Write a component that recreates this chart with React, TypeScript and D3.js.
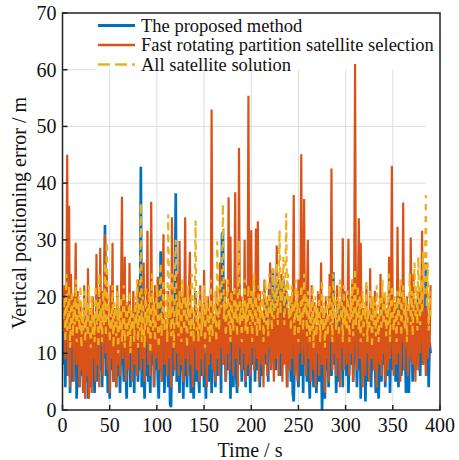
import React from "react";
import * as d3 from "d3";

const width = 459;
const height = 460;
const margin = { top: 13, right: 19, bottom: 50, left: 62.5 };

// vertical positioning error (m), one value per second, t = 1..390
const proposed = [
  8, 14, 4, 19, 6, 12, 22, 3, 10, 16,
  5, 13, 7, 18, 2, 9, 15, 4, 11, 6,
  12, 3, 17, 5, 9, 14, 2, 11, 7, 4,
  15, 6, 10, 3, 13, 8, 5, 12, 20, 7,
  11, 4, 16, 9, 32.6, 6, 14, 3, 10, 2,
  13, 7, 18, 5, 9, 12, 4, 15, 6, 10,
  3, 14, 8, 11, 5, 17, 7, 2, 12, 9,
  16, 4, 10, 6, 13, 3, 15, 8, 19, 5,
  11, 7, 42.9, 4, 14, 9, 2, 12, 6, 16,
  5, 10, 3, 13, 8, 18, 4, 11, 7, 15,
  6, 2, 12, 28, 9, 5, 14, 3, 10, 7,
  13, 4, 16, 1, 0.5, 11, 6, 9, 18, 38.2,
  5, 12, 8, 3, 15, 7, 10, 2, 13, 6,
  9, 4, 17, 8, 11, 3, 14, 6, 2, 10,
  21, 5, 12, 7, 3, 15, 9, 6, 13, 4,
  10, 2, 14, 8, 5, 12, 16, 3, 9, 7,
  13, 4, 11, 19, 6, 10, 15, 3, 31, 31.3,
  8, 14, 5, 11, 17, 7, 12, 2, 16, 9,
  4, 13, 10, 6, 3, 15, 22, 8, 12, 5,
  11, 7, 18, 4, 14, 9, 6, 13, 3, 16,
  8, 12, 20, 5, 15, 7, 11, 17, 4, 10,
  13, 6, 9, 15, 19, 8, 14, 5, 22, 12,
  16, 9, 24.9, 11, 18, 7, 20, 13, 10, 23,
  6, 17, 14, 23, 9, 19, 21, 4, 15, 8,
  12, 5, 16, 3, 1.5, 9, 18, 7, 13, 4,
  10, 14, 6, 17, 3, 20, 8, 12, 5, 15,
  9, 2, 11, 7, 16, 4, 13, 10, 3, 8,
  14, 5, 9, 12, 0, 6, 15, 2, 11, 7,
  13, 4, 18, 9, 6, 16, 24.3, 8, 12, 3,
  10, 15, 5, 19, 7, 13, 4, 17, 9, 11,
  6, 14, 3, 10, 16, 8, 20, 5, 12, 9,
  15, 4, 11, 7, 18, 2, 13, 9, 6, 10,
  1.5, 14, 5, 12, 8, 17, 4, 11, 7, 15,
  9, 3, 13, 6, 2, 10, 16, 5, 19, 8,
  12, 4, 14, 9, 6, 18, 3, 11, 15, 7,
  10, 13, 5, 8, 16, 4, 12, 20, 6, 9,
  14, 7, 11, 3, 15, 8, 3, 13, 10, 17,
  5, 12, 19, 7, 14, 9, 21, 11, 6, 16,
  13, 8, 18, 10, 26, 6, 15, 4, 12, 10,
];

const fastRotating = [
  14, 22, 9, 18, 45, 6, 36, 4, 24, 11,
  20, 5, 17, 29.5, 8, 21, 12, 4, 19, 7,
  16, 3, 22, 2, 14, 6, 25, 2, 11, 18,
  3, 20, 9, 15, 5, 27.5, 8, 17, 4, 28.6,
  12, 21, 6, 19, 31, 10, 24, 7, 15, 3,
  22, 9, 29.5, 5, 18, 11, 4, 22, 8, 16,
  6, 20, 37.6, 9, 14, 27, 5, 19, 12, 7,
  25.9, 10, 17, 5, 21, 13, 8, 19, 6, 23,
  11, 16, 7, 20, 9, 26, 5, 18, 12, 31.6,
  8, 15, 6, 36.7, 10, 19, 4, 22, 9, 14,
  23.5, 7, 17, 11, 5, 20, 31, 8, 16, 12,
  6, 21, 9, 18, 4, 34, 11, 15, 7, 19,
  10, 24, 6, 29.8, 13, 8, 20, 5, 17, 34,
  9, 14, 6, 21, 27.9, 8, 18, 4, 15, 11,
  20, 7, 16, 10, 5, 22, 9, 14, 6, 24.7,
  11, 18, 4, 20, 8, 15, 10, 53, 7, 17,
  12, 5, 21, 9, 16, 6, 26, 11, 19, 8,
  14, 23, 5, 18, 10, 37.5, 7, 30.6, 12, 21,
  6, 17, 38.4, 9, 15, 4, 46.2, 11, 20, 7,
  18, 10, 30, 5, 22, 8, 55.4, 13, 6, 31.7,
  11, 19, 7, 16, 32, 9, 33.3, 5, 21, 12,
  8, 17, 4, 23, 10, 15, 6, 20, 11, 26,
  7, 18, 12, 5, 21, 9, 29, 14, 6, 19,
  10, 24, 5, 16, 8, 22, 11, 4, 18, 13,
  7, 20, 9, 15, 37.9, 6, 19, 12, 5, 23,
  10, 16, 45.1, 8, 14, 37.2, 11, 6, 20, 30,
  9, 17, 5, 22, 12, 7, 19, 4, 15, 10,
  21, 6, 13, 26, 8, 18, 11, 3, 20, 9,
  16, 5, 24, 12, 42.6, 7, 19, 10, 15, 6,
  22, 9, 14, 4, 18, 11, 30.3, 7, 21, 13,
  8, 17, 30.2, 6, 15, 10, 23, 5, 19, 61,
  12, 7, 20, 33.8, 9, 29.5, 11, 4, 18, 14,
  6, 22, 10, 16, 5, 25, 9, 19, 12, 7,
  21, 11, 4, 17, 13, 8, 24, 6, 15, 10,
  20, 5, 18, 12, 7, 27, 9, 16, 43, 11,
  6, 19, 13, 8, 32.3, 10, 17, 5, 22, 12,
  36.6, 7, 15, 11, 20, 6, 18, 9, 30.4, 13,
  8, 24, 11, 5, 19, 14, 7, 21, 10, 16,
  31.6, 8, 18, 12, 6, 22, 9, 15, 11, 22,
];

const allSatellite = [
  16, 20, 12, 24, 14, 18, 22, 11, 17, 21,
  13, 19, 15, 23, 12, 17, 20, 14, 22, 11,
  18, 14, 21, 12, 16, 19, 13, 22, 15, 11,
  20, 13, 17, 12, 22, 15, 19, 11, 24, 14,
  18, 12, 21, 15, 26, 13, 29.7, 16, 20, 12,
  17, 14, 22, 11, 19, 15, 13, 21, 10, 18,
  14, 20, 12, 17, 22, 11, 16, 19, 13, 15,
  21, 10, 18, 14, 17, 12, 20, 15, 23, 11,
  19, 14, 36.5, 12, 20, 16, 11, 22, 15, 18,
  13, 21, 10, 17, 24, 14, 19, 12, 16, 22,
  15, 11, 20, 26, 13, 18, 23, 14, 17, 21,
  12, 34.5, 16, 20, 13, 24, 17, 11, 22, 30,
  15, 19, 13, 21, 16, 12, 23, 18, 14, 20,
  17, 11, 22, 15, 19, 13, 24, 16, 12, 20,
  33.4, 14, 18, 12, 21, 16, 13, 19, 15, 22,
  11, 17, 20, 14, 18, 12, 23, 16, 13, 19,
  15, 21, 12, 29.7, 17, 14, 22, 18, 24, 36.3,
  16, 20, 13, 18, 23, 15, 19, 12, 21, 17,
  14, 22, 16, 19, 13, 21, 30, 15, 18, 12,
  20, 16, 23, 14, 19, 13, 22, 17, 15, 21,
  12, 18, 24, 15, 20, 13, 17, 22, 14, 19,
  16, 21, 12, 18, 23, 15, 20, 13, 24, 17,
  19, 14, 25, 16, 21, 18, 26, 15, 22, 31.7,
  17, 23, 19, 27, 15, 21, 34.7, 18, 24, 16,
  20, 14, 22, 17, 19, 13, 23, 16, 21, 12,
  18, 15, 22, 19, 14, 24, 17, 20, 13, 21,
  16, 12, 19, 14, 22, 11, 17, 20, 13, 18,
  15, 21, 12, 17, 23, 14, 19, 11, 16, 20,
  13, 18, 22, 15, 19, 12, 24, 16, 21, 14,
  17, 20, 13, 23, 16, 19, 12, 22, 15, 18,
  14, 21, 17, 12, 20, 16, 23, 13, 19, 25,
  15, 18, 22, 14, 20, 12, 17, 21, 13, 19,
  16, 23, 12, 18, 14, 21, 17, 11, 20, 15,
  19, 13, 22, 16, 12, 20, 18, 14, 23, 15,
  17, 21, 13, 19, 15, 24, 12, 18, 22, 16,
  14, 20, 17, 12, 21, 15, 19, 23, 13, 18,
  22, 16, 14, 20, 12, 19, 17, 24, 15, 21,
  13, 18, 26, 16, 22, 14, 27, 19, 15, 23,
  17, 28, 20, 24, 37.9, 18, 26, 14, 21, 16,
];

const xTicks = [0, 50, 100, 150, 200, 250, 300, 350, 400];
const yTicks = [0, 10, 20, 30, 40, 50, 60, 70];

const series = [
  { name: "The proposed method", values: proposed, color: "#0072BD", width: 2.7, dash: null },
  { name: "Fast rotating partition satellite selection", values: fastRotating, color: "#D95319", width: 2.2, dash: null },
  { name: "All satellite solution", values: allSatellite, color: "#EDB120", width: 2.2, dash: "6,6" },
];

const font = "'Liberation Serif', 'Times New Roman', serif";

export default function App() {
  const x = d3.scaleLinear().domain([0, 400]).range([margin.left, width - margin.right]);
  const y = d3.scaleLinear().domain([0, 70]).range([height - margin.bottom, margin.top]);

  const line = d3
    .line<number>()
    .x((_, i) => x(i + 1))
    .y((d) => y(d));

  const x0 = x(0);
  const x1 = x(400);
  const y0 = y(0);
  const y1 = y(70);

  return (
    <svg width={width} height={height} style={{ position: "absolute", left: 0, top: 0, background: "#fff" }}>
      {/* grid: stops short of the legend and the right edge */}
      {xTicks.slice(1, -1).map((t) => (
        <line key={"gx" + t} x1={x(t)} x2={x(t)} y1={y0} y2={y(60)} stroke="#dcdcdc" strokeWidth={1} />
      ))}
      {yTicks.slice(1, -2).map((t) => (
        <line key={"gy" + t} x1={x0} x2={x(385)} y1={y(t)} y2={y(t)} stroke="#dcdcdc" strokeWidth={1} />
      ))}
      <line x1={x0} x2={x(35)} y1={y(60)} y2={y(60)} stroke="#dcdcdc" strokeWidth={1} />

      {series.map((s) => (
        <path
          key={s.name}
          d={line(s.values) || ""}
          fill="none"
          stroke={s.color}
          strokeWidth={s.width}
          strokeDasharray={s.dash || undefined}
          strokeLinejoin="miter"
        />
      ))}

      {/* axes box */}
      <rect x={x0} y={y1} width={x1 - x0} height={y0 - y1} fill="none" stroke="#222" strokeWidth={1.5} />
      {xTicks.map((t) => (
        <g key={"xt" + t}>
          <line x1={x(t)} x2={x(t)} y1={y0} y2={y0 - 5} stroke="#222" strokeWidth={1.5} />
          <text x={x(t)} y={y0 + 22} textAnchor="middle" fontFamily={font} fontSize={20} fill="#111">
            {t}
          </text>
        </g>
      ))}
      {yTicks.map((t) => (
        <g key={"yt" + t}>
          <line x1={x0} x2={x0 + 5} y1={y(t)} y2={y(t)} stroke="#222" strokeWidth={1.5} />
          <text x={x0 - 6} y={y(t) + 7} textAnchor="end" fontFamily={font} fontSize={20} fill="#111">
            {t}
          </text>
        </g>
      ))}

      <text x={250} y={457} textAnchor="middle" fontFamily={font} fontSize={20} fill="#111">
        Time / s
      </text>
      <text
        transform={`translate(26, ${213}) rotate(-90)`}
        textAnchor="middle"
        fontFamily={font}
        fontSize={20}
        fill="#111"
      >
        Vertical positioning error / m
      </text>

      {/* legend */}
      {series.map((s, i) => {
        const ly = 25.5 + i * 19.5;
        return (
          <g key={"lg" + i}>
            <line x1={98} x2={135} y1={ly} y2={ly} stroke={s.color} strokeWidth={s.width + 0.5} strokeDasharray={s.dash ? "12,5" : undefined} />
            <text x={141} y={ly + 6} fontFamily={font} fontSize={18.5} fill="#111">
              {s.name}
            </text>
          </g>
        );
      })}
    </svg>
  );
}
